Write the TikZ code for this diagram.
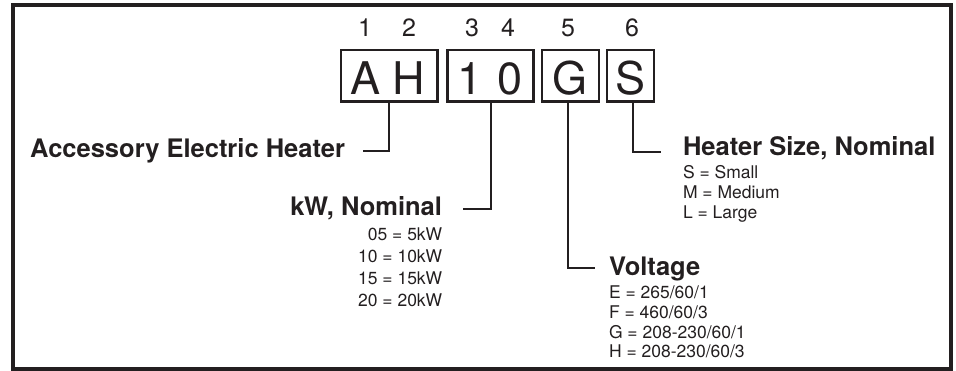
\documentclass[tikz,border=0pt]{standalone}
\usepackage{fontspec}
\setmainfont{TeX Gyre Heros}
\definecolor{ink}{HTML}{231F20}
\begin{document}
\begin{tikzpicture}[x=1pt,y=-1pt,
  every node/.style={inner sep=0pt, outer sep=0pt, text=ink},
  codebox/.style={draw=ink, line width=2.6pt, minimum height=51.5pt, anchor=north west},
  bigletter/.style={font=\fontsize{45}{45}\selectfont, anchor=base},
  posnum/.style={font=\fontsize{25}{25}\selectfont, anchor=base},
  heading/.style={font=\bfseries\fontsize{25.5}{25.5}\selectfont},
  item/.style={font=\fontsize{17.5}{17.5}\selectfont},
  conn/.style={draw=ink, line width=2pt}]
\useasboundingbox (0,0) rectangle (956,371);
\draw[draw=ink, line width=4pt] (12.5,5) rectangle (951,369);
% code boxes
\node[codebox, minimum width=96.5pt] (bAH) at (341,50) {};
\node[codebox, minimum width=85.6pt] (b10) at (447.7,50) {};
\node[codebox, minimum width=57pt] (bG) at (542,50) {};
\node[codebox, minimum width=47pt] (bS) at (607,50) {};
% letters
\node[bigletter] (lA) at (366,95) {A};
\node[bigletter] (lH) at (409,95) {H};
\node[bigletter] (l1) at (470,95) {1};
\node[bigletter] (l0) at (510,95) {0};
\node[bigletter] (lG) at (570,95) {G};
\node[bigletter] (lS) at (631,95) {S};
% position numbers
\node[posnum] (n1) at (365,37) {1};
\node[posnum] (n2) at (409,37) {2};
\node[posnum] (n3) at (472,37) {3};
\node[posnum] (n4) at (508,37) {4};
\node[posnum] (n5) at (568,37) {5};
\node[posnum] (n6) at (632,37) {6};
% headings
\node[heading, anchor=base east] (hAcc) at (345,158) {Accessory Electric Heater};
\node[heading, anchor=base east] (hKW) at (442,216) {kW, Nominal};
\node[heading, anchor=base west] (hV) at (609,276) {Voltage};
\node[heading, anchor=base west] (hS) at (683,156) {Heater Size, Nominal};
% items
\node[item, anchor=base east] (k1) at (442,241) {05 = 5kW};
\node[item, anchor=base east] (k2) at (442,263) {10 = 10kW};
\node[item, anchor=base east] (k3) at (442,285) {15 = 15kW};
\node[item, anchor=base east] (k4) at (442,307) {20 = 20kW};
\node[item, anchor=base west] (v1) at (609,299) {E = 265/60/1};
\node[item, anchor=base west] (v2) at (609,319) {F = 460/60/3};
\node[item, anchor=base west] (v3) at (609,339) {G = 208-230/60/1};
\node[item, anchor=base west] (v4) at (609,358) {H = 208-230/60/3};
\node[item, anchor=base west] (s1) at (683,179) {S = Small};
\node[item, anchor=base west] (s2) at (683,199) {M = Medium};
\node[item, anchor=base west] (s3) at (683,219) {L = Large};
% connector ends
\coordinate (eAcc) at (363,151);
\coordinate (eKW) at (463,209);
\coordinate (eV) at (595,268);
\coordinate (eS) at (661,152);
\draw[conn] (bAH.south -| 389,0) |- (eAcc);
\draw[conn] (b10.south -| 491,0) |- (eKW);
\draw[conn] (bG.south -| 568,0) |- (eV);
\draw[conn] (bS.south -| 633,0) |- (eS);
\end{tikzpicture}
\end{document}
